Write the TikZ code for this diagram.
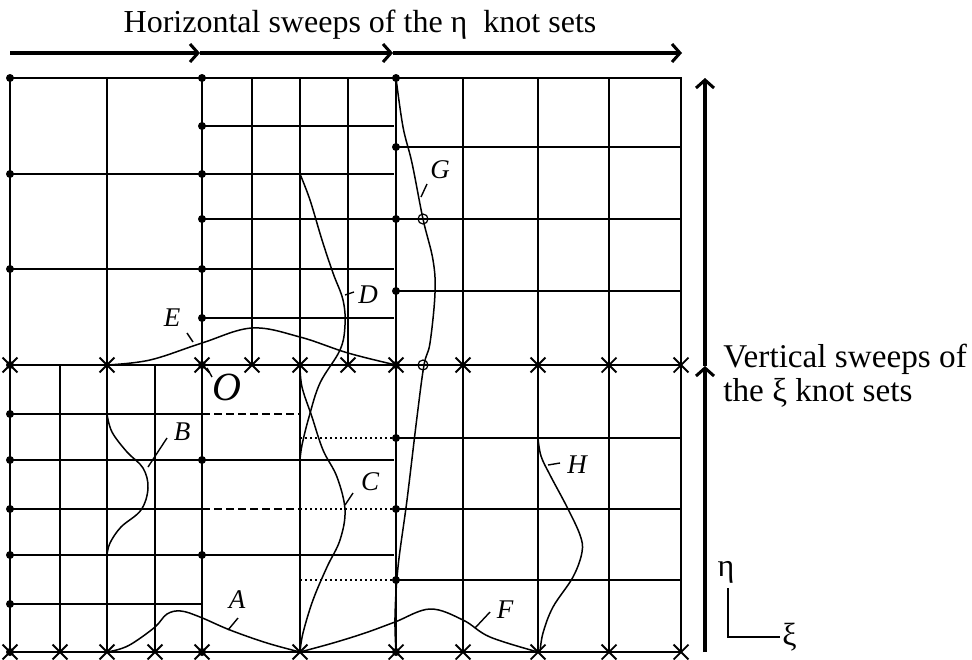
\documentclass[tikz,border=0pt]{standalone}
\usepackage{fontspec}
\setmainfont{Liberation Serif}
\usepackage{tikz}
\usetikzlibrary{arrows.meta, shapes.misc, positioning}
\tikzset{
  gridline/.style={line width=1.15pt, line cap=rect},
  sweep/.style={line width=2pt, -{Straight Barb[length=4pt, width=9pt, line width=1.5pt]}},
  basis/.style={line width=0.75pt},
  knotdot/.style={circle, fill=black, inner sep=0pt, minimum size=4pt},
  knotx/.style={cross out, draw=black, line width=0.9pt, inner sep=0pt, minimum size=6.5pt},
  knotring/.style={circle, draw=black, line width=0.6pt, inner sep=0pt, minimum size=5pt},
  leader/.style={line width=0.7pt},
  lbl/.style={font=\fontsize{13.5}{15}\selectfont\itshape, inner sep=0pt},
  sweeptext/.style={font=\fontsize{16}{13.5}\selectfont, inner sep=0pt},
  halfdash/.style={line width=1pt, dash pattern=on 4pt off 2pt},
  halfdot/.style={line width=1pt, dash pattern=on 1pt off 1.5pt},
}
\begin{document}
\begin{tikzpicture}[x=0.5pt, y=-0.5pt]
  \useasboundingbox (0,0) rectangle (972,659);

  % knot lines, xi direction
  \foreach \kx in {10,107,202,300,396,463,538,609,681}
    \draw[gridline] (\kx,78) -- (\kx,652);
  \foreach \kx in {252,348}
    \draw[gridline] (\kx,78) -- (\kx,365);
  \foreach \kx in {60,155}
    \draw[gridline] (\kx,365) -- (\kx,652);

  % knot lines, eta direction
  \foreach \ky in {78,365,652}
    \draw[gridline] (10,\ky) -- (681,\ky);
  \foreach \ky in {174,269,460,555}
    \draw[gridline] (10,\ky) -- (393,\ky);
  \foreach \ky in {126,318}
    \draw[gridline] (202,\ky) -- (393,\ky);
  \draw[gridline] (202,219) -- (681,219);
  \foreach \ky in {147,291,438,509,580}
    \draw[gridline] (396,\ky) -- (681,\ky);
  \foreach \ky in {414,509,604}
    \draw[gridline] (10,\ky) -- (202,\ky);
  \foreach \ky in {414,509}
    \draw[halfdash] (202,\ky) -- (300,\ky);
  \foreach \ky in {438,509,580}
    \draw[halfdot] (300,\ky) -- (396,\ky);

  % knots
  \foreach \ky [count=\i] in {78,174,269,365,414,460,509,555,604,652}
    \node[knotdot] (kl-\i) at (10,\ky) {};
  \foreach \ky [count=\i] in {78,126,174,219,269,318,365,460,555,652}
    \node[knotdot] (km-\i) at (202,\ky) {};
  \foreach \ky [count=\i] in {78,147,219,291,365,438,509,580,652}
    \node[knotdot] (kr-\i) at (396,\ky) {};
  \foreach \kx [count=\i] in {10,107,202,252,300,348,396,463,538,609,681}
    \node[knotx] (xm-\i) at (\kx,365) {};
  \foreach \kx [count=\i] in {10,60,107,155,202,300,396,463,538,609,681}
    \node[knotx] (xb-\i) at (\kx,652) {};
  \node[knotring] (ring1) at (423,219) {};
  \node[knotring] (ring2) at (423,365) {};

  % basis functions
  \draw[basis] plot[smooth, tension=0.6] coordinates {(107,652) (120,649) (133,643) (155,627) (167,614) (181,611) (200,617) (230,630) (267,643) (300,652)};
  \draw[basis] plot[smooth, tension=0.6] coordinates {(107,414) (112,432) (127,452) (143,468) (148,488) (141,510) (121,527) (110,543) (107,555)};
  \draw[basis] plot[smooth, tension=0.6] coordinates {(300,365) (302,387) (312,417) (323,450) (337,477) (345,510) (340,540) (327,567) (313,600) (303,633) (300,652)};
  \draw[basis] plot[smooth, tension=0.6] coordinates {(300,174) (310,200) (322,240) (333,273) (343,300) (345,325) (340,350) (320,383) (309,417) (302,445) (300,460)};
  \draw[basis] plot[smooth, tension=0.6] coordinates {(107,365) (150,360) (202,343) (252,328) (300,337) (348,353) (396,365)};
  \draw[basis] plot[smooth, tension=0.6] coordinates {(300,652) (333,643) (365,633) (395,622) (430,609) (463,620) (490,637) (538,652)};
  \draw[basis] plot[smooth, tension=0.6] coordinates {(396,78) (403,127) (412,163) (423,219) (433,260) (435,293) (430,343) (424,365) (417,417) (407,500) (398,567) (395,617) (396,652)};
  \draw[basis] plot[smooth, tension=0.6] coordinates {(538,438) (541,456) (550,475) (567,507) (580,535) (582,552) (573,577) (553,607) (543,633) (540,652)};

  % labels
  \node[lbl] (lblA) at (237,600) {A};
  \node[lbl] (lblB) at (182,432) {B};
  \node[lbl] (lblC) at (370,482) {C};
  \node[lbl] (lblD) at (368,295) {D};
  \node[lbl] (lblE) at (172,318) {E};
  \node[lbl] (lblF) at (505,610) {F};
  \node[lbl] (lblG) at (440,170) {G};
  \node[lbl] (lblH) at (577,465) {H};
  \node[lbl, font=\fontsize{20}{21}\selectfont\itshape] (lblO) at (227,387) {O};

  \coordinate (pA) at (228,630); \coordinate (qA) at (238,618);
  \coordinate (pB) at (148,467); \coordinate (qB) at (167,438);
  \coordinate (pC) at (345,505); \coordinate (qC) at (353,493);
  \coordinate (pD) at (345,295); \coordinate (qD) at (354,292);
  \coordinate (pE) at (193,342); \coordinate (qE) at (187,333);
  \coordinate (pF) at (475,628); \coordinate (qF) at (490,612);
  \coordinate (pG) at (421,197); \coordinate (qG) at (427,184);
  \coordinate (pH) at (548,465); \coordinate (qH) at (560,463);
  \coordinate (pO) at (207,368); \coordinate (qO) at (212,377);
  \foreach \c in {A,B,C,D,E,F,G,H,O}
    \draw[leader] (p\c) -- (q\c);

  % sweep arrows
  \coordinate (hs0) at (10,53);
  \coordinate (hs1) at (200,53);
  \coordinate (hs2) at (393,53);
  \coordinate (hs3) at (682,53);
  \draw[sweep] (hs0) -- (hs1);
  \draw[sweep] (hs1) -- (hs2);
  \draw[sweep] (hs2) -- (hs3);
  \coordinate (vs0) at (705,652);
  \coordinate (vs1) at (705,366);
  \coordinate (vs2) at (705,78);
  \draw[sweep] (vs0) -- (vs1);
  \draw[sweep] (vs1) -- (vs2);

  \node[sweeptext] (htext) at (360,25) {Horizontal sweeps of the η\ \ knot sets};
  \node[sweeptext, font=\fontsize{16.6}{14}\selectfont, anchor=base west] (vtext1) at (723,367) {Vertical sweeps of};
  \node[sweeptext, font=\fontsize{16.6}{14}\selectfont, anchor=base west] (vtext2) at (723,401) {the ξ knot sets};

  % axes
  \coordinate (axo) at (728,637);
  \coordinate (axe) at (728,588);
  \coordinate (axx) at (780,637);
  \draw[leader] (axe) -- (axo) -- (axx);
  \node[sweeptext, above=2pt of axe, xshift=-1pt] (etalbl) {η};
  \node[sweeptext, right=1pt of axx] (xilbl) {ξ};
\end{tikzpicture}
\end{document}
